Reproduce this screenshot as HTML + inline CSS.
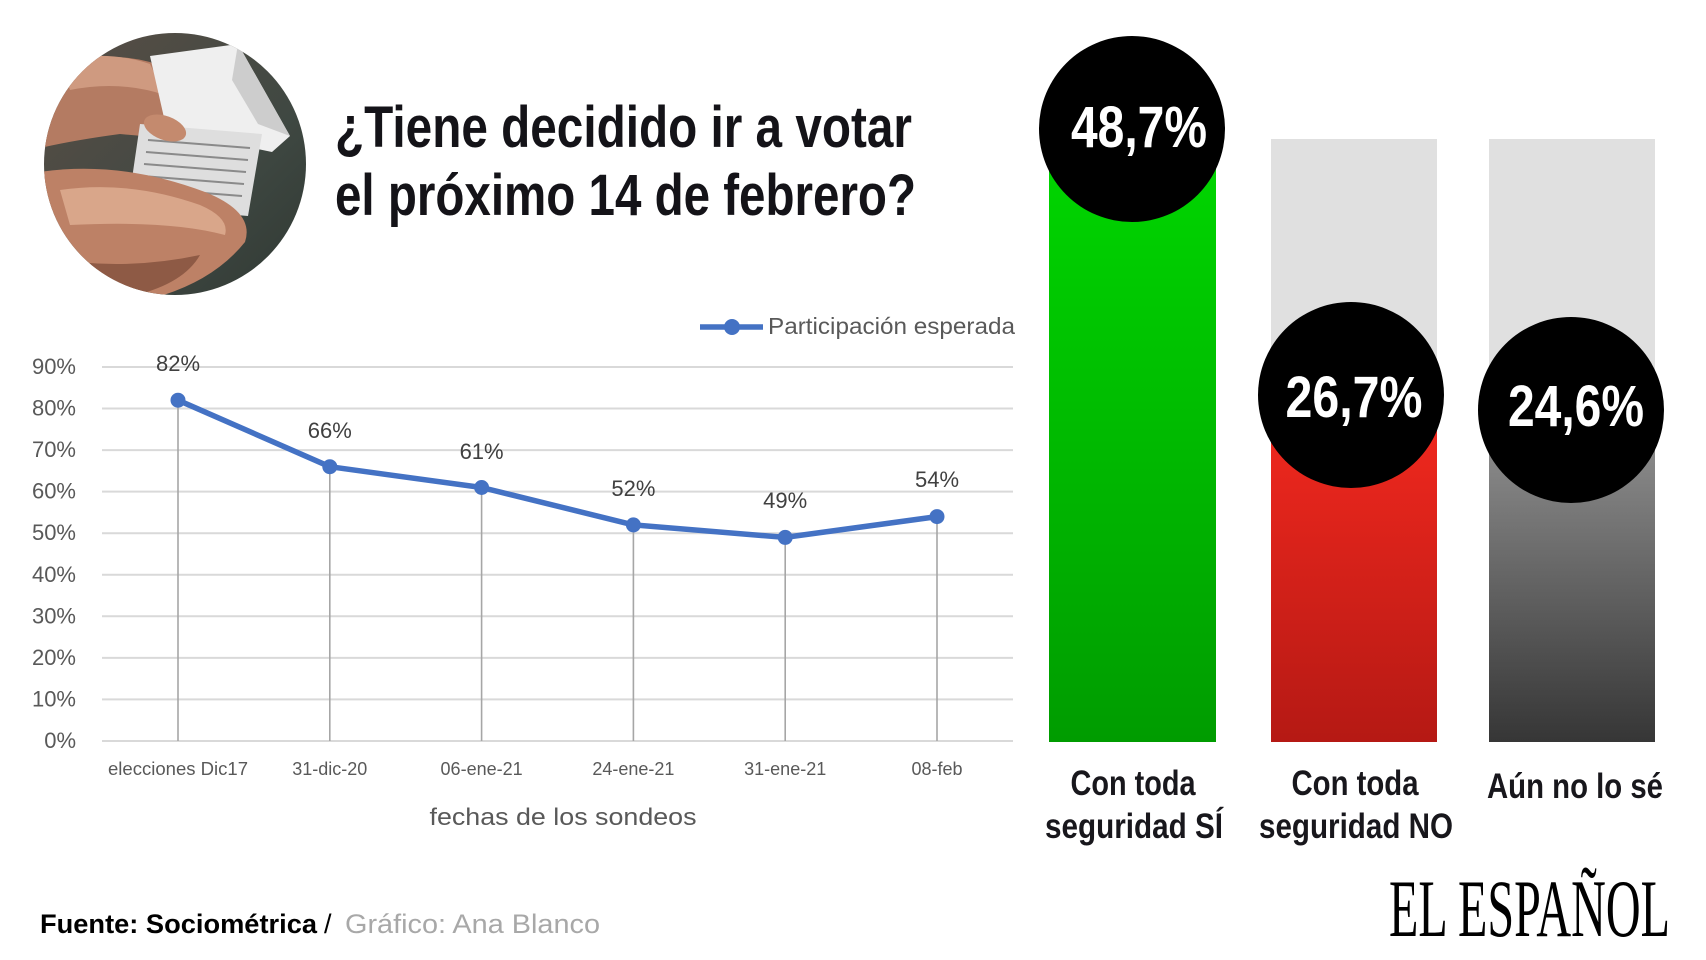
<!DOCTYPE html>
<html>
<head>
<meta charset="utf-8">
<style>
  html,body{margin:0;padding:0;background:#fff;}
  svg{display:block;}
</style>
</head>
<body>
<svg width="1706" height="960" viewBox="0 0 1706 960" xmlns="http://www.w3.org/2000/svg">
  <defs>
    <clipPath id="pc"><circle cx="175" cy="164" r="131"/></clipPath>
    <linearGradient id="gGreen" x1="0" y1="0" x2="0" y2="1">
      <stop offset="0" stop-color="#00d600"/>
      <stop offset="1" stop-color="#009c00"/>
    </linearGradient>
    <linearGradient id="gRed" x1="0" y1="0" x2="0" y2="1">
      <stop offset="0" stop-color="#f0281e"/>
      <stop offset="1" stop-color="#b51914"/>
    </linearGradient>
    <linearGradient id="gGray" x1="0" y1="0" x2="0" y2="1">
      <stop offset="0" stop-color="#8c8c8c"/>
      <stop offset="1" stop-color="#363636"/>
    </linearGradient>
    <linearGradient id="gBg" x1="0" y1="0" x2="1" y2="1">
      <stop offset="0" stop-color="#5a4e46"/>
      <stop offset="0.6" stop-color="#3f4842"/>
      <stop offset="1" stop-color="#2e3631"/>
    </linearGradient>
  </defs>

  <rect width="1706" height="960" fill="#ffffff"/>

  <!-- Photo -->
  <g clip-path="url(#pc)">
    <rect x="40" y="30" width="280" height="280" fill="url(#gBg)"/>
    <path d="M40 72 Q95 48 150 62 Q175 75 190 118 Q185 140 165 138 L120 134 Q75 140 40 148 Z" fill="#b47b62"/>
    <path d="M60 60 Q110 50 150 64 L165 95 Q120 80 70 90 Z" fill="#cf9a80"/>
    <polygon points="150,56 238,44 290,136 272,152 215,140 165,122" fill="#efefef"/>
    <polygon points="238,44 290,136 258,124 232,80" fill="#cdcdcd"/>
    <polygon points="140,124 262,134 248,216 128,206" fill="#dedede"/>
    <g stroke="#8a8a8a" stroke-width="2">
      <line x1="148" y1="140" x2="250" y2="148"/>
      <line x1="146" y1="152" x2="248" y2="160"/>
      <line x1="144" y1="164" x2="246" y2="172"/>
      <line x1="142" y1="176" x2="244" y2="184"/>
      <line x1="140" y1="188" x2="242" y2="196"/>
    </g>
    <ellipse cx="165" cy="128" rx="22" ry="12" fill="#c48a6e" transform="rotate(20 165 128)"/>
    <path d="M40 172 Q120 160 205 192 Q255 212 245 242 Q205 292 120 305 L40 305 Z" fill="#bd8166"/>
    <path d="M60 190 Q130 180 200 205 Q230 218 225 235 Q170 220 70 225 Z" fill="#d9a68a"/>
    <path d="M60 260 Q130 270 200 255 Q180 290 110 300 L50 300 Z" fill="#8e5a45"/>
  </g>

  <!-- Title -->
  <g font-family="'Liberation Sans Narrow','Liberation Sans',sans-serif" font-weight="bold" fill="#141318" font-size="58">
    <text x="335" y="147" textLength="577" lengthAdjust="spacingAndGlyphs">¿Tiene decidido ir a votar</text>
    <text x="335" y="215" textLength="581" lengthAdjust="spacingAndGlyphs">el próximo 14 de febrero?</text>
  </g>

  <!-- Line chart gridlines -->
  <g stroke="#d9d9d9" stroke-width="2">
    <line x1="102" y1="741" x2="1013" y2="741"/>
    <line x1="102" y1="699.4" x2="1013" y2="699.4"/>
    <line x1="102" y1="657.9" x2="1013" y2="657.9"/>
    <line x1="102" y1="616.3" x2="1013" y2="616.3"/>
    <line x1="102" y1="574.8" x2="1013" y2="574.8"/>
    <line x1="102" y1="533.2" x2="1013" y2="533.2"/>
    <line x1="102" y1="491.6" x2="1013" y2="491.6"/>
    <line x1="102" y1="450.1" x2="1013" y2="450.1"/>
    <line x1="102" y1="408.5" x2="1013" y2="408.5"/>
    <line x1="102" y1="367" x2="1013" y2="367"/>
  </g>

  <!-- Y labels -->
  <g font-family="'Liberation Sans',sans-serif" font-size="22" fill="#595959" text-anchor="end">
    <text x="76" y="748">0%</text>
    <text x="76" y="706.4">10%</text>
    <text x="76" y="664.9">20%</text>
    <text x="76" y="623.3">30%</text>
    <text x="76" y="581.8">40%</text>
    <text x="76" y="540.2">50%</text>
    <text x="76" y="498.6">60%</text>
    <text x="76" y="457.1">70%</text>
    <text x="76" y="415.5">80%</text>
    <text x="76" y="374">90%</text>
  </g>

  <!-- drop lines -->
  <g stroke="#a6a6a6" stroke-width="1.6">
    <line x1="178" y1="400.2" x2="178" y2="741"/>
    <line x1="329.8" y1="466.7" x2="329.8" y2="741"/>
    <line x1="481.6" y1="487.5" x2="481.6" y2="741"/>
    <line x1="633.4" y1="524.9" x2="633.4" y2="741"/>
    <line x1="785.2" y1="537.4" x2="785.2" y2="741"/>
    <line x1="937" y1="516.6" x2="937" y2="741"/>
  </g>

  <!-- series -->
  <polyline points="178,400.2 329.8,466.7 481.6,487.5 633.4,524.9 785.2,537.4 937,516.6" fill="none" stroke="#4472c4" stroke-width="5.5" stroke-linejoin="round"/>
  <g fill="#4472c4">
    <circle cx="178" cy="400.2" r="7.5"/>
    <circle cx="329.8" cy="466.7" r="7.5"/>
    <circle cx="481.6" cy="487.5" r="7.5"/>
    <circle cx="633.4" cy="524.9" r="7.5"/>
    <circle cx="785.2" cy="537.4" r="7.5"/>
    <circle cx="937" cy="516.6" r="7.5"/>
  </g>

  <!-- data labels -->
  <g font-family="'Liberation Sans',sans-serif" font-size="22" fill="#404040" text-anchor="middle">
    <text x="178" y="371">82%</text>
    <text x="329.8" y="438">66%</text>
    <text x="481.6" y="459">61%</text>
    <text x="633.4" y="496">52%</text>
    <text x="785.2" y="508">49%</text>
    <text x="937" y="487">54%</text>
  </g>

  <!-- x labels -->
  <g font-family="'Liberation Sans',sans-serif" font-size="18" fill="#595959" text-anchor="middle">
    <text x="178" y="775" textLength="140" lengthAdjust="spacingAndGlyphs">elecciones Dic17</text>
    <text x="329.8" y="775">31-dic-20</text>
    <text x="481.6" y="775">06-ene-21</text>
    <text x="633.4" y="775">24-ene-21</text>
    <text x="785.2" y="775">31-ene-21</text>
    <text x="937" y="775">08-feb</text>
  </g>
  <text x="563" y="825" font-family="'Liberation Sans',sans-serif" font-size="24" fill="#595959" text-anchor="middle" textLength="267" lengthAdjust="spacingAndGlyphs">fechas de los sondeos</text>

  <!-- legend -->
  <line x1="700" y1="327" x2="763" y2="327" stroke="#4472c4" stroke-width="5.5"/>
  <circle cx="732" cy="327" r="8" fill="#4472c4"/>
  <text x="768" y="334" font-family="'Liberation Sans',sans-serif" font-size="23" fill="#595959" textLength="247" lengthAdjust="spacingAndGlyphs">Participación esperada</text>

  <!-- Bars -->
  <rect x="1049" y="150" width="167" height="592" fill="url(#gGreen)"/>
  <rect x="1271" y="139" width="166" height="603" fill="#e0e0e0"/>
  <rect x="1271" y="420" width="166" height="322" fill="url(#gRed)"/>
  <rect x="1489" y="139" width="166" height="603" fill="#e0e0e0"/>
  <rect x="1489" y="440" width="166" height="302" fill="url(#gGray)"/>

  <!-- circles -->
  <circle cx="1132" cy="129" r="93" fill="#000"/>
  <circle cx="1351" cy="395" r="93" fill="#000"/>
  <circle cx="1571" cy="410" r="93" fill="#000"/>

  <g font-family="'Liberation Sans Narrow','Liberation Sans',sans-serif" font-weight="bold" fill="#ffffff" font-size="58" text-anchor="middle">
    <text x="1139" y="147" textLength="136" lengthAdjust="spacingAndGlyphs">48,7%</text>
    <text x="1354" y="417" textLength="137" lengthAdjust="spacingAndGlyphs">26,7%</text>
    <text x="1576" y="426" textLength="136" lengthAdjust="spacingAndGlyphs">24,6%</text>
  </g>

  <!-- bar labels -->
  <g font-family="'Liberation Sans Narrow','Liberation Sans',sans-serif" font-weight="bold" fill="#18171c" font-size="35" text-anchor="middle">
    <text x="1133" y="795" textLength="125" lengthAdjust="spacingAndGlyphs">Con toda</text>
    <text x="1134" y="838" textLength="178" lengthAdjust="spacingAndGlyphs">seguridad SÍ</text>
    <text x="1355" y="795" textLength="127" lengthAdjust="spacingAndGlyphs">Con toda</text>
    <text x="1356" y="838" textLength="194" lengthAdjust="spacingAndGlyphs">seguridad NO</text>
    <text x="1575" y="798" textLength="176" lengthAdjust="spacingAndGlyphs">Aún no lo sé</text>
  </g>

  <!-- footer -->
  <text x="40" y="933" font-family="'Liberation Sans Narrow','Liberation Sans',sans-serif" font-weight="bold" font-size="27" fill="#000" textLength="277" lengthAdjust="spacingAndGlyphs">Fuente: Sociométrica</text>
  <text x="324" y="933" font-family="'Liberation Sans',sans-serif" font-size="27" fill="#000">/</text>
  <text x="345" y="933" font-family="'Liberation Sans',sans-serif" font-size="27" fill="#a8a8a8" textLength="255" lengthAdjust="spacingAndGlyphs">Gráfico: Ana Blanco</text>

  <!-- logo -->
  <text x="1389" y="936" font-family="'Liberation Serif',serif" font-size="82" fill="#000" textLength="281" lengthAdjust="spacingAndGlyphs">EL ESPAÑOL</text>
</svg>
</body>
</html>
